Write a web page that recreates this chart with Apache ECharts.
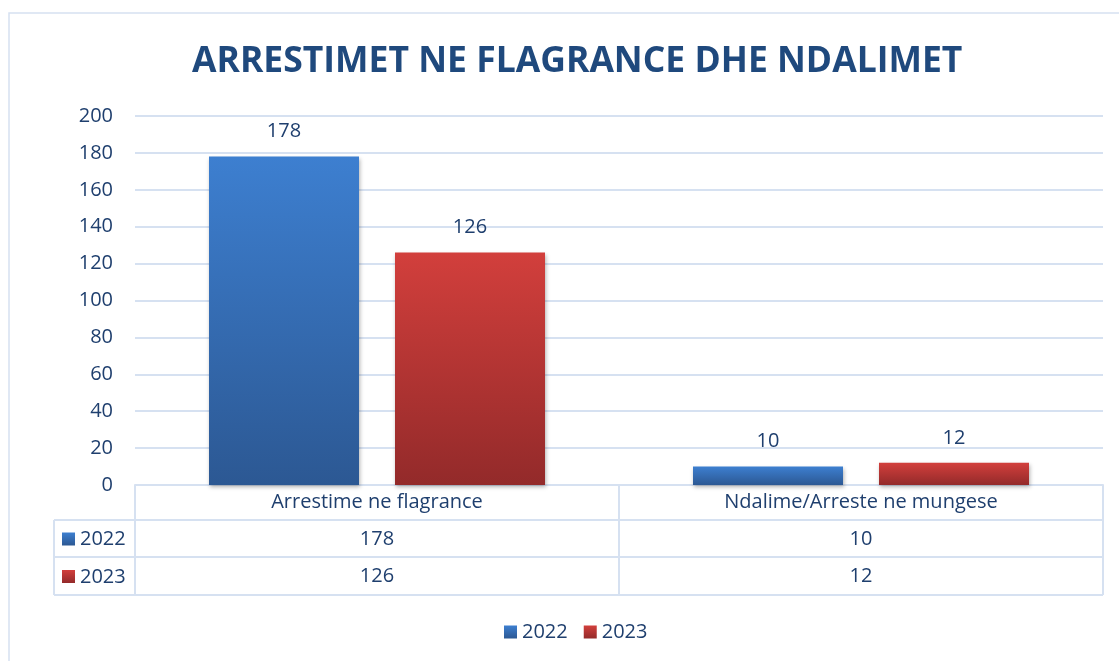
<!DOCTYPE html>
<html>
<head>
<meta charset="utf-8">
<script src="https://cdn.jsdelivr.net/npm/echarts@6/dist/echarts.min.js"></script>
<style>
	html,body{margin:0;padding:0;background:#fff;}
	#main{width:1119px;height:661px;}
</style>
</head>
<body>
<div id="main"></div>
<script>
var categories = ['Arrestime ne flagrance', 'Ndalime/Arreste ne mungese'];
var seriesNames = ['2022', '2023'];
var values2022 = [178, 10];
var values2023 = [126, 12];
var yTicks = [0, 20, 40, 60, 80, 100, 120, 140, 160, 180, 200];

var textColor = '#1f3f6e';
var lineColor = '#d6e1f1';
var fontFam = '"Open Sans", "Noto Sans", sans-serif';

var blueGrad = new echarts.graphic.LinearGradient(0, 0, 0, 1, [
	{offset: 0, color: '#3d7fd0'},
	{offset: 1, color: '#2c5893'}
]);
var redGrad = new echarts.graphic.LinearGradient(0, 0, 0, 1, [
	{offset: 0, color: '#d23f3c'},
	{offset: 1, color: '#932a2a'}
]);

// table geometry
var gL = 135, gR = 1103, gB = 485;
var rowH = [35, 37, 38];
var colL = 54;

function tableLines(){
	var g = [];
	var y1 = gB + rowH[0], y2 = y1 + rowH[1], y3 = y2 + rowH[2];
	var midX = (gL + gR) / 2;
	var st = {stroke: lineColor, lineWidth: 2};
	g.push({type:'line', shape:{x1:colL, y1:y1, x2:gR, y2:y1}, style:st});
	g.push({type:'line', shape:{x1:colL, y1:y2, x2:gR, y2:y2}, style:st});
	g.push({type:'line', shape:{x1:colL, y1:y3, x2:gR, y2:y3}, style:st});
	g.push({type:'line', shape:{x1:colL, y1:y1, x2:colL, y2:y3}, style:st});
	g.push({type:'line', shape:{x1:gL, y1:gB, x2:gL, y2:y3}, style:st});
	g.push({type:'line', shape:{x1:midX, y1:gB, x2:midX, y2:y3}, style:st});
	g.push({type:'line', shape:{x1:gR, y1:gB, x2:gR, y2:y3}, style:st});
	var rows = [[seriesNames[0], blueGrad, y1], [seriesNames[1], redGrad, y2]];
	for(var i=0;i<rows.length;i++){
		var cy = rows[i][2] + rowH[i+1]/2;
		g.push({type:'rect', shape:{x:62, y:cy-6, width:13, height:13}, style:{fill:rows[i][1]}});
		g.push({type:'text', x:80, y:cy+1, style:{text:rows[i][0], fill:textColor, font:'20px ' + fontFam, verticalAlign:'middle'}});
	}
	// outer frame
	g.push({type:'rect', shape:{x:9, y:13, width:1130, height:700}, style:{fill:'none', stroke:lineColor, lineWidth:1.5}, z:-1});
	return g;
}

var myChart = echarts.init(document.getElementById('main'));
myChart.setOption({
	animation: false,
	title: {
		text: 'ARRESTIMET NE FLAGRANCE DHE NDALIMET',
		left: 187,
		top: 39,
		textStyle: {color:'#1f497d', fontSize:35.5, fontWeight:'bold', fontFamily:fontFam}
	},
	legend: {
		bottom: 14,
		left: 499,
		itemWidth: 13,
		itemHeight: 13,
		itemGap: 16,
		icon: 'rect',
		textStyle: {color:textColor, fontSize:20, fontFamily:fontFam},
		data: seriesNames
	},
	grid: {left:gL, right:1119-gR, top:116, bottom:661-gB},
	xAxis: [{
		type: 'category',
		data: categories,
		axisLine: {lineStyle:{color:lineColor, width:2}},
		axisTick: {show:false},
		axisLabel: {color:textColor, fontSize:20, fontFamily:fontFam, margin:7}
	},{
		type: 'category',
		data: categories,
		position: 'bottom',
		offset: 37,
		axisLine: {show:false},
		axisTick: {show:false},
		axisLabel: {color:textColor, fontSize:20, fontFamily:fontFam, margin:7,
			formatter: function(v, i){ return String(values2022[i]); }}
	},{
		type: 'category',
		data: categories,
		position: 'bottom',
		offset: 74,
		axisLine: {show:false},
		axisTick: {show:false},
		axisLabel: {color:textColor, fontSize:20, fontFamily:fontFam, margin:7,
			formatter: function(v, i){ return String(values2023[i]); }}
	}],
	yAxis: {
		type: 'value',
		min: yTicks[0],
		max: yTicks[yTicks.length-1],
		interval: 20,
		axisLine: {show:false},
		axisTick: {show:false},
		axisLabel: {color:textColor, fontSize:20, fontFamily:fontFam, margin:22},
		splitLine: {lineStyle:{color:lineColor, width:2}}
	},
	series: [{
		name: seriesNames[0],
		type: 'bar',
		data: values2022,
		barWidth: 150,
		barGap: '24%',
		itemStyle: {color:blueGrad, shadowColor:'rgba(0,0,0,0.3)', shadowBlur:4, shadowOffsetX:1, shadowOffsetY:2},
		label: {show:true, position:'top', distance:15, color:textColor, fontSize:20, fontFamily:fontFam}
	},{
		name: seriesNames[1],
		type: 'bar',
		data: values2023,
		barWidth: 150,
		itemStyle: {color:redGrad, shadowColor:'rgba(0,0,0,0.3)', shadowBlur:4, shadowOffsetX:1, shadowOffsetY:2},
		label: {show:true, position:'top', distance:15, color:textColor, fontSize:20, fontFamily:fontFam}
	}],
	graphic: tableLines()
});
</script>
</body>
</html>
